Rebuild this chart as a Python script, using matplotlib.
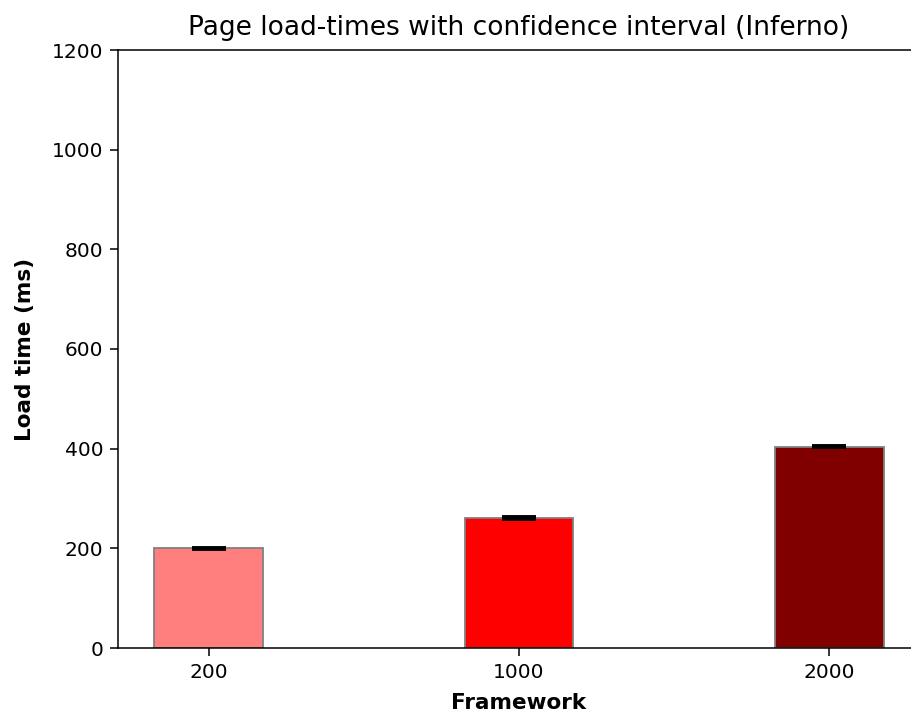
import numpy as np
import matplotlib
matplotlib.use('Agg')
import matplotlib.pyplot as plt

# data
labels = ['200', '1000', '2000']
load_times = [200, 261, 404]
ci = [1.5, 1.5, 1.5]
colors = ['#ff7f7f', '#ff0000', '#800000']

fig = plt.figure(figsize=(9.11, 7.15), dpi=100)
ax = fig.add_axes([118 / 911, 1 - 648 / 715, (920 - 118) / 911, (648 - 50) / 715])

x = np.arange(len(labels))
ax.bar(x, load_times, width=0.35, color=colors, edgecolor='grey', linewidth=1.3,
       yerr=ci, capsize=12, error_kw={'elinewidth': 2, 'capthick': 2.8, 'ecolor': 'black'})

ax.set_xticks(x)
ax.set_xticklabels(labels)
ax.tick_params(labelsize=14.5, length=5.5, width=1.1, pad=5)
for s in ax.spines.values():
    s.set_linewidth(1.1)
ax.set_ylim(0, 1200)
ax.set_xlabel('Framework', fontsize=15.5, fontweight='bold', labelpad=8.5)
ax.set_ylabel('Load time (ms)', fontsize=15.5, fontweight='bold', labelpad=12.5)
ax.set_title('Page load-times with confidence interval (Inferno)', fontsize=19, pad=11)

fig.savefig('out.png', dpi=100)
